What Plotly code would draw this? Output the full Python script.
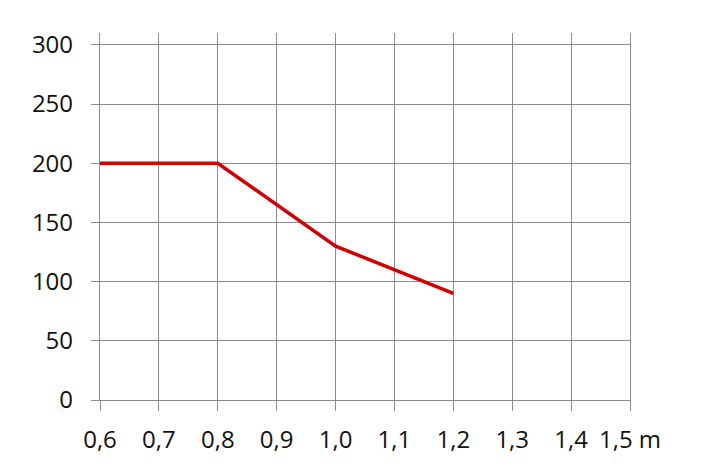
import plotly.graph_objects as go

# data
distance_m = [0.6, 0.8, 1.0, 1.2]
values = [200, 200, 130, 90]

x_ticks = [0.6, 0.7, 0.8, 0.9, 1.0, 1.1, 1.2, 1.3, 1.4, 1.5]
x_labels = ['0,6', '0,7', '0,8', '0,9', '1,0', '1,1', '1,2', '1,3', '1,4', '1,5 m']
y_ticks = [0, 50, 100, 150, 200, 250, 300]

grid = '#8c8c8c'

fig = go.Figure(go.Scatter(x=distance_m, y=values, mode='lines',
                           line={'color': '#d00000', 'width': 3.5}))

# page body has an 8px margin, so shift the plot area back by 8px
fig.update_layout(
    width=704, height=469,
    margin={'l': 92, 'r': 82, 't': 25, 'b': 77},
    paper_bgcolor='white', plot_bgcolor='white',
    showlegend=False,
    font={'family': 'Open Sans, sans-serif', 'size': 24, 'color': '#111111'},
    xaxis={'range': [0.6, 1.5], 'tickvals': x_ticks, 'ticktext': x_labels,
           'showgrid': True, 'gridcolor': grid, 'gridwidth': 1.3,
           'showline': True, 'linecolor': grid, 'linewidth': 1.3, 'mirror': False,
           'ticks': 'outside', 'ticklen': 10, 'tickcolor': grid, 'tickwidth': 1.3,
           'ticklabelstandoff': 8,
           'zeroline': False, 'fixedrange': True},
    yaxis={'range': [0, 310], 'tickvals': y_ticks,
           'showgrid': True, 'gridcolor': grid, 'gridwidth': 1.3,
           'showline': True, 'linecolor': grid, 'linewidth': 1.3, 'mirror': True,
           'ticks': 'outside', 'ticklen': 8, 'tickcolor': grid, 'tickwidth': 1.3,
           'ticklabelstandoff': 13,
           'zeroline': False, 'fixedrange': True},
)

fig.write_html("out.html")
